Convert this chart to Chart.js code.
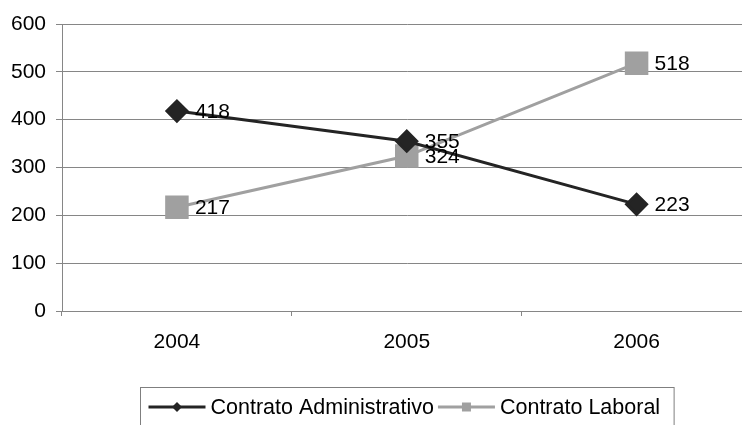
<!DOCTYPE html>
<html>
<head>
<meta charset="utf-8">
<script src="https://cdn.jsdelivr.net/npm/chart.js@4/dist/chart.umd.min.js"></script>
<style>
html,body{margin:0;padding:0;background:#fff;overflow:hidden;width:742px;height:425px;}
#wrap{position:absolute;left:0;top:0;width:769px;height:425px;}
#c{width:769px;height:425px;display:block;}
</style>
</head>
<body>
<div id="wrap"><canvas id="c" width="769" height="425"></canvas></div>
<script>
const categories = ['2004', '2005', '2006'];
const administrativo = [418, 355, 223];
const laboral = [217, 324, 518];
const seriesNames = ['Contrato Administrativo', 'Contrato Laboral'];
const yTicks = [0, 100, 200, 300, 400, 500, 600];

const FONT = 'Arial, "Liberation Sans", sans-serif';
const GRID = '#868686';

const valueLabels = {
  id: 'valueLabels',
  afterDatasetsDraw(chart) {
    const ctx = chart.ctx;
    ctx.save();
    ctx.font = '21px ' + FONT;
    ctx.fillStyle = '#000';
    ctx.textBaseline = 'middle';
    ctx.textAlign = 'left';
    chart.data.datasets.forEach((ds, i) => {
      const meta = chart.getDatasetMeta(i);
      meta.data.forEach((pt, j) => {
        ctx.fillText(String(ds.data[j]), pt.x + 18, pt.y + 1);
      });
    });
    ctx.restore();
  }
};

const excelLegend = {
  id: 'excelLegend',
  afterDraw(chart) {
    const ctx = chart.ctx;
    const ca = chart.chartArea;
    ctx.save();
    ctx.font = '21.5px ' + FONT;
    const dss = chart.data.datasets;
    const lineW = 57, gapA = 5, gapB = 4, padL = 8, padR = 14;
    let total = padL + padR;
    dss.forEach((ds, i) => {
      total += lineW + gapA + ctx.measureText(ds.label).width + (i < dss.length - 1 ? gapB : 0);
    });
    const cx = (ca.left + ca.right) / 2;
    const left = Math.round(cx - total / 2) + 0.5;
    const top = 387.5;
    ctx.strokeStyle = '#7f7f7f';
    ctx.lineWidth = 1;
    ctx.strokeRect(left, top, total, 60);
    let x = left + padL;
    const y = 407;
    ctx.textBaseline = 'middle';
    ctx.textAlign = 'left';
    dss.forEach((ds, i) => {
      ctx.strokeStyle = ds.borderColor;
      ctx.lineWidth = 3;
      ctx.beginPath();
      ctx.moveTo(x, y);
      ctx.lineTo(x + lineW, y);
      ctx.stroke();
      const mx = x + lineW / 2;
      ctx.fillStyle = ds.pointBackgroundColor;
      ctx.beginPath();
      if (ds.pointStyle === 'rectRot') {
        ctx.moveTo(mx, y - 5); ctx.lineTo(mx + 5, y); ctx.lineTo(mx, y + 5); ctx.lineTo(mx - 5, y);
        ctx.closePath();
      } else {
        ctx.rect(mx - 4.5, y - 4.5, 9, 9);
      }
      ctx.fill();
      x += lineW + gapA;
      ctx.fillStyle = '#000';
      ctx.fillText(ds.label, x, y + 1);
      x += ctx.measureText(ds.label).width + gapB;
    });
    ctx.restore();
  }
};

new Chart(document.getElementById('c'), {
  type: 'line',
  data: {
    labels: categories,
    datasets: [
      {
        label: seriesNames[0],
        data: administrativo,
        borderColor: '#242424',
        backgroundColor: '#242424',
        pointBackgroundColor: '#242424',
        pointBorderColor: '#242424',
        borderWidth: 3,
        pointStyle: 'rectRot',
        pointRadius: 10,
        pointHoverRadius: 10,
        tension: 0
      },
      {
        label: seriesNames[1],
        data: laboral,
        borderColor: '#a0a0a0',
        backgroundColor: '#a0a0a0',
        pointBackgroundColor: '#a0a0a0',
        pointBorderColor: '#a0a0a0',
        borderWidth: 3,
        pointStyle: 'rect',
        pointRadius: 14.5,
        pointHoverRadius: 14.5,
        tension: 0
      }
    ]
  },
  options: {
    responsive: false,
    animation: false,
    devicePixelRatio: 1,
    layout: { padding: { top: 24, right: 8, left: 0, bottom: 0 } },
    plugins: {
      legend: { display: false },
      tooltip: { enabled: false }
    },
    scales: {
      x: {
        type: 'category',
        offset: true,
        grid: {
          offset: true,
          drawOnChartArea: false,
          drawTicks: true,
          tickLength: 5,
          color: GRID
        },
        border: { display: true, color: GRID, width: 1 },
        ticks: {
          color: '#000',
          font: { size: 21, family: FONT },
          padding: 14,
          maxRotation: 0
        },
        afterFit(scale) { scale.height = 114; }
      },
      y: {
        min: 0,
        max: 600,
        afterBuildTicks(scale) { scale.ticks = yTicks.map(v => ({ value: v })); },
        grid: {
          color: GRID,
          drawTicks: true,
          tickLength: 6,
          lineWidth: 1
        },
        border: { display: true, color: GRID, width: 1 },
        ticks: {
          color: '#000',
          font: { size: 21, family: FONT },
          padding: 10
        },
        afterFit(scale) { scale.width = 62; }
      }
    }
  },
  plugins: [valueLabels, excelLegend]
});
</script>
</body>
</html>
